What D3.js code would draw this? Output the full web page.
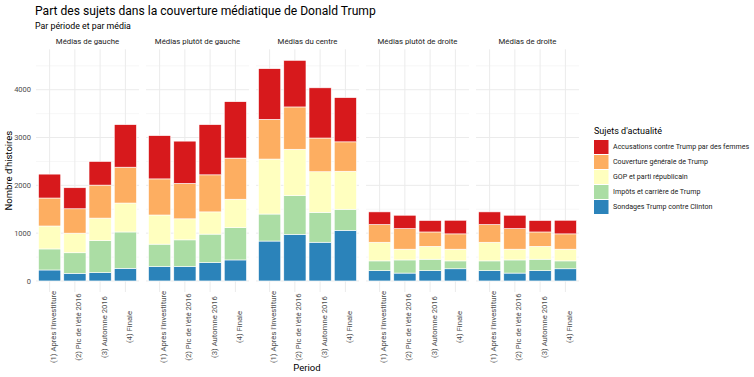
<!DOCTYPE html>
<html>
<head>
<meta charset="utf-8">
<script src="https://cdn.jsdelivr.net/npm/d3@7"></script>
<style>
  body { margin: 0; background: #fff; }
  text { font-family: Roboto, "Noto Sans", sans-serif; }
</style>
</head>
<body>
<svg id="chart" width="754" height="377"></svg>
<script>
// facets and periods
const medias = ["Médias de gauche", "Médias plutôt de gauche", "Médias du centre", "Médias plutôt de droite", "Médias de droite"];
const periods = ["(1) Après l'investiture", "(2) Pic de l'été 2016", "(3) Automne 2016", "(4) Finale"];
const topics = ["Sondages Trump contre Clinton", "Impôts et carrière de Trump", "GOP et parti républicain", "Couverture générale de Trump", "Accusations contre Trump par des femmes"];
const colors = ["#2b83ba", "#abdda4", "#ffffbf", "#fdae61", "#d7191c"];

// values: 4 periods per media, in media order
const sondages    = [230, 160, 175, 265,  300, 300, 385, 440,  835, 975, 810, 1060,  215, 165, 215, 255,  215, 165, 215, 255];
const impots      = [440, 430, 670, 760,  470, 560, 595, 675,  565, 810, 625, 440,   205, 275, 240, 165,  205, 275, 240, 165];
const gop         = [480, 410, 470, 605,  610, 440, 465, 595,  1150, 970, 850, 795,  390, 225, 270, 245,  390, 225, 270, 245];
const couverture  = [585, 510, 690, 750,  755, 740, 775, 860,  830, 885, 705, 615,   370, 430, 300, 320,  370, 430, 300, 320];
const accusations = [500, 440, 495, 890,  905, 885, 1050, 1180, 1060, 975, 1050, 925, 265, 280, 240, 285,  265, 280, 240, 285];

const series = [sondages, impots, gop, couverture, accusations];

const rows = [];
medias.forEach((m, i) => {
    periods.forEach((p, j) => {
        const r = { media: m, period: p };
        topics.forEach((t, k) => { r[t] = series[k][i * 4 + j]; });
        rows.push(r);
    });
});

const svg = d3.select("#chart");
const panelTop = 49.3, panelBottom = 292;

const fx = d3.scaleBand().domain(medias).range([36, 579]).paddingInner(0.0636);

const maxTotal = d3.max(rows, r => d3.sum(topics, t => r[t]));
const pad = maxTotal * 0.05;
const y = d3.scaleLinear().domain([-pad, maxTotal + pad]).range([panelBottom, panelTop]);

const stack = d3.stack().keys(topics);
const color = d3.scaleOrdinal().domain(topics).range(colors);

// titles
svg.append("text").attr("x", 35).attr("y", 15).attr("font-size", 12.1).attr("fill", "#000")
    .text("Part des sujets dans la couverture médiatique de Donald Trump");
svg.append("text").attr("x", 35).attr("y", 28.5).attr("font-size", 8.8).attr("fill", "#000")
    .text("Par période et par média");

// y axis labels
const yTicks = [0, 1000, 2000, 3000, 4000];
svg.append("g").selectAll("text").data(yTicks).enter().append("text")
    .attr("x", 31).attr("y", d => y(d)).attr("dy", "0.35em")
    .attr("text-anchor", "end").attr("font-size", 7.5).attr("fill", "#4d4d4d")
    .text(d => d);

medias.forEach(m => {
    const x = d3.scaleBand().domain(periods)
        .range([fx(m), fx(m) + fx.bandwidth()])
        .paddingInner(0.12).paddingOuter(0.1);
    const g = svg.append("g");

    // grid
    d3.range(500, 5000, 1000).forEach(v => {
        g.append("line").attr("x1", fx(m)).attr("x2", fx(m) + fx.bandwidth())
            .attr("y1", y(v)).attr("y2", y(v)).attr("stroke", "#f2f2f2").attr("stroke-width", 0.6);
    });
    yTicks.forEach(v => {
        g.append("line").attr("x1", fx(m)).attr("x2", fx(m) + fx.bandwidth())
            .attr("y1", y(v)).attr("y2", y(v)).attr("stroke", "#ebebeb").attr("stroke-width", 1);
    });
    periods.forEach(p => {
        const cx = x(p) + x.bandwidth() / 2;
        g.append("line").attr("x1", cx).attr("x2", cx)
            .attr("y1", panelTop).attr("y2", panelBottom).attr("stroke", "#ebebeb").attr("stroke-width", 1);
    });

    // strip label
    svg.append("text").attr("x", fx(m) + fx.bandwidth() / 2).attr("y", 44)
        .attr("text-anchor", "middle").attr("font-size", 7.8).attr("fill", "#1a1a1a")
        .text(m);

    const data = rows.filter(r => r.media === m);
    const stacked = stack(data);

    g.selectAll(".layer").data(stacked).enter().append("g")
        .attr("fill", d => color(d.key))
        .selectAll("rect").data(d => d).enter().append("rect")
        .attr("x", d => x(d.data.period))
        .attr("width", x.bandwidth())
        .attr("y", d => y(d[1]))
        .attr("height", d => y(d[0]) - y(d[1]))
        .attr("stroke", "#fff").attr("stroke-width", 0.6);

    // x tick labels (vertical, centred)
    g.selectAll(".xl").data(periods).enter().append("text")
        .attr("transform", p => `translate(${x(p) + x.bandwidth() / 2 + 6.5},327) rotate(-90)`)
        .attr("text-anchor", "middle").attr("font-size", 7.7).attr("fill", "#4d4d4d")
        .text(p => p);
});

// axis titles
svg.append("text").attr("x", 307).attr("y", 371).attr("text-anchor", "middle")
    .attr("font-size", 9.5).attr("fill", "#000").text("Period");
svg.append("text").attr("transform", `translate(12,${(panelTop + panelBottom) / 2}) rotate(-90)`)
    .attr("text-anchor", "middle").attr("font-size", 9.5).attr("fill", "#000")
    .text("Nombre d'histoires");

// legend
const legend = svg.append("g").attr("transform", "translate(594,140)");
legend.append("text").attr("x", 0).attr("y", -6).attr("font-size", 9).attr("fill", "#000")
    .text("Sujets d'actualité");
const legendOrder = topics.slice().reverse();
legendOrder.forEach((t, i) => {
    legend.append("rect").attr("x", 0).attr("y", i * 15).attr("width", 14.5).attr("height", 14)
        .attr("fill", color(t));
    legend.append("text").attr("x", 19).attr("y", i * 15 + 7).attr("dy", "0.35em")
        .attr("font-size", 7.1).attr("fill", "#1a1a1a").text(t);
});
</script>
</body>
</html>
